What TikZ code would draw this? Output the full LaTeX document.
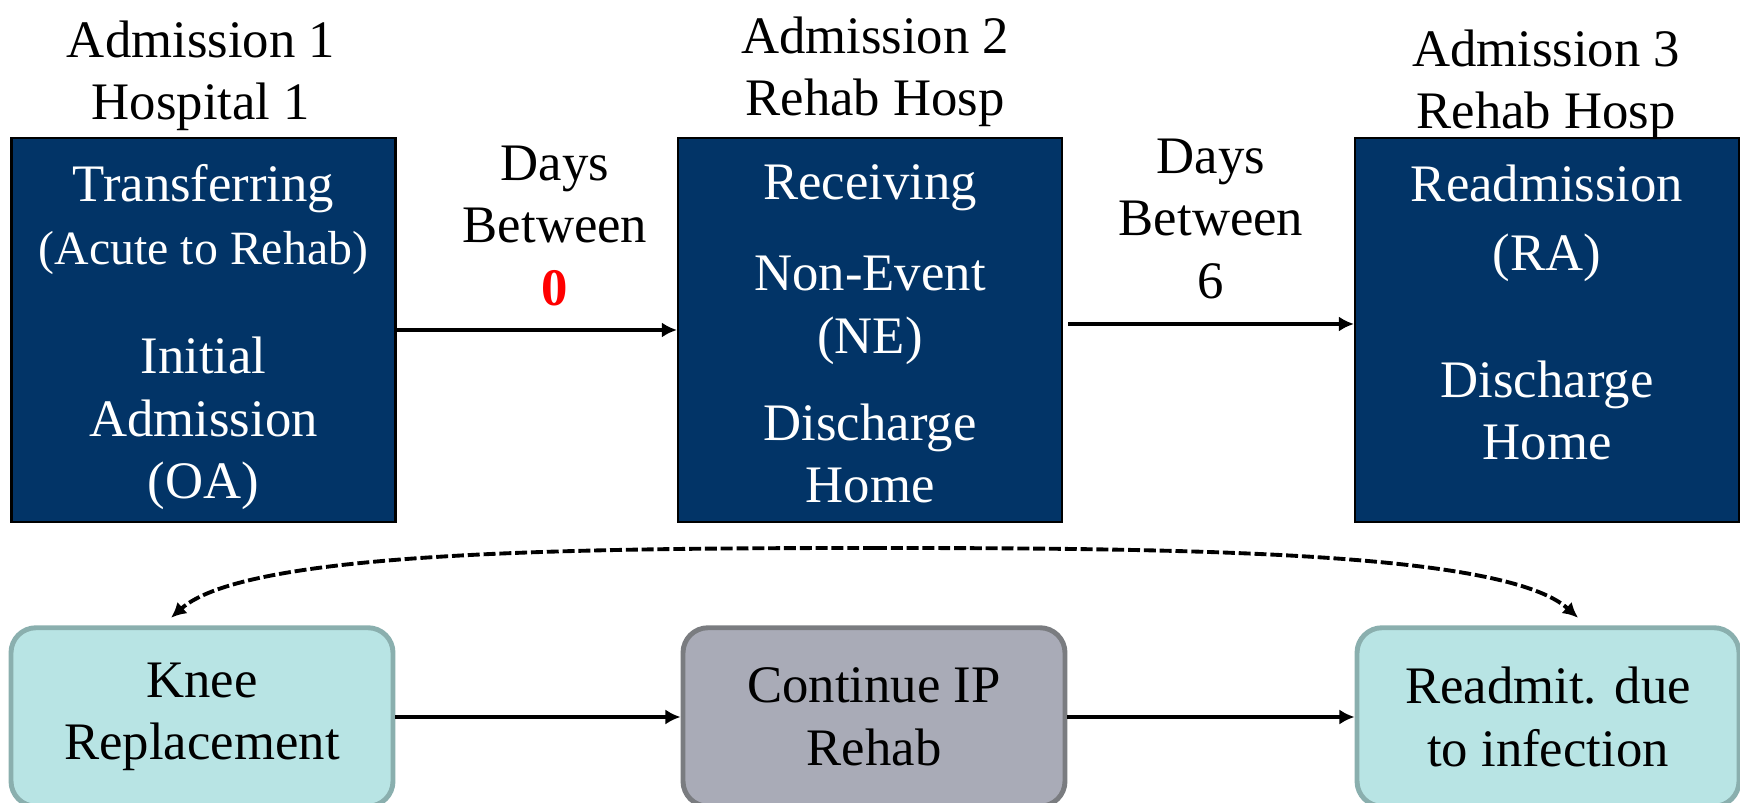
\documentclass[tikz,border=0pt]{standalone}
\usepackage{xcolor}
\usepackage{fontspec}
\setmainfont{Liberation Serif}
\usepackage{tikz}
\usetikzlibrary{calc, arrows.meta}

\definecolor{navy}{RGB}{2,52,103}
\definecolor{cyanfill}{RGB}{184,228,228}
\definecolor{cyanline}{RGB}{138,175,174}
\definecolor{grayfill}{RGB}{169,171,183}
\definecolor{grayline}{RGB}{122,124,128}
\newcommand{\diagfont}{\fontsize{15}{17.8}\selectfont}
\newcommand{\smallerfont}{\fontsize{13.6}{15}\selectfont}

\tikzstyle{navybox} = [rectangle, draw=black, line width=0.6pt, fill=navy, minimum width=38.4mm, minimum height=38.4mm, inner sep=0pt]
\tikzstyle{boxtext} = [anchor=north, text=white, align=center, inner sep=0pt, font=\diagfont]
\tikzstyle{headtext} = [anchor=north, align=center, inner sep=0pt, font=\diagfont]
\tikzstyle{stepcyan} = [rectangle, rounded corners=2.5mm, draw=cyanline, line width=1.4pt, fill=cyanfill, minimum width=38.2mm, minimum height=17.85mm, align=center, font=\diagfont]
\tikzstyle{stepgray} = [stepcyan, draw=grayline, fill=grayfill]
\tikzstyle{flow} = [-{Latex[length=4.3pt,width=4.3pt]}, line width=1.1pt]
\tikzstyle{dashflow} = [flow, dash pattern=on 3.4pt off 1.1pt]

\begin{document}
\begin{tikzpicture}[x=0.1mm, y=-0.1mm]
    \clip (0,0) rectangle (1740,803);

    %% admissions
    \node (adm1) [navybox] at (203.5,330) {};
    \node (adm2) [navybox] at (870,330) {};
    \node (adm3) [navybox] at (1547,330) {};

    %% titres
    \node (head1) [headtext] at (201,20) {Admission 1\\Hospital 1};
    \node (head2) [headtext] at (875,16) {Admission 2\\Rehab Hosp};
    \node (head3) [headtext] at (1546,29) {Admission 3\\Rehab Hosp};

    %% textes des admissions
    \node (txt1) [boxtext] at (203.5,164) {Transferring\\{\smallerfont (Acute to Rehab)}\\[13.3pt]Initial\\Admission\\(OA)};
    \node (txt2) [boxtext] at (870,164) {Receiving\\[8.1pt]Non-Event\\(NE)\\[7pt]Discharge\\Home};
    \node (txt3) [boxtext] at (1547,164) {Readmission\\[1.8pt](RA)\\[18.4pt]Discharge\\Home};

    %% jours entre
    \node (days1) [headtext] at (555,145) {Days\\Between\\\textcolor{red}{\textbf{0}}};
    \node (days2) [headtext] at (1211,138) {Days\\Between\\6};

    \draw[flow] (adm1.east) -- (adm2.west);
    \draw[flow] ($(adm2.east)+(5,-6)$) -- ($(adm3.west)+(0,-6)$);

    %% parcours
    \node (knee) [stepcyan] at (202,717) {Knee\\Replacement};
    \node (cont) [stepgray] at (874,717) {Continue IP\\Rehab};
    \node (readm) [stepcyan] at (1548,717) {Readmit. due\\to infection};

    \draw[flow] (knee.east) -- (cont.west);
    \draw[flow] (cont.east) -- (readm.west);

    %% lien en pointillés
    \coordinate (arctop) at (875,548);
    \draw[dashflow] (arctop) .. controls (560,548) and (245,552) .. ($(knee.north)+(-31,-7.5)$);
    \draw[dashflow] (arctop) .. controls (1190,548) and (1505,552) .. ($(readm.north)+(30,-7.5)$);
\end{tikzpicture}
\end{document}
